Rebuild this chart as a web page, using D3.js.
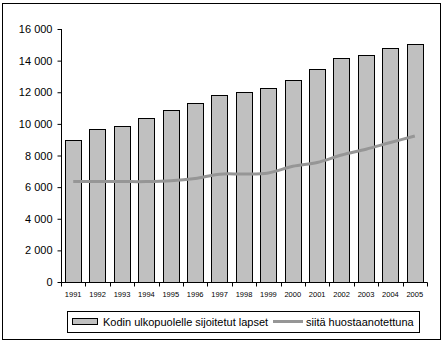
<!DOCTYPE html>
<html><head><meta charset="utf-8">
<script src="https://cdn.jsdelivr.net/npm/d3@7"></script>
<style>body{margin:0;background:#fff}svg{display:block}text{font-family:"Liberation Sans",Arial,sans-serif}</style>
</head><body><svg id="c" width="445" height="342"></svg>
<script>
const years = ["1991","1992","1993","1994","1995","1996","1997","1998","1999","2000","2001","2002","2003","2004","2005"];
const placed = [9000,9650,9850,10350,10900,11350,11800,12000,12300,12800,13500,14150,14350,14800,15050];
const custody = [6350,6350,6350,6350,6400,6550,6820,6830,6900,7320,7560,8030,8400,8820,9230];
const yTicks = [0,2000,4000,6000,8000,10000,12000,14000,16000];
const seriesNames = ["Kodin ulkopuolelle sijoitetut lapset","siitä huostaanotettuna"];

const svg = d3.select("#c");
const L=61, R=427, T=29, B=282;
const x = d3.scaleBand().domain(years).range([L,R]).paddingInner(0.33).paddingOuter(0.165);
const y = d3.scaleLinear().domain([0,16000]).range([B,T]);
const fmt = v => v===0 ? "0" : d3.format(",")(v).replace(/,/g," ");

// frame
svg.append("rect").attr("x",2.5).attr("y",3.5).attr("width",438).attr("height",336)
  .attr("fill","none").attr("stroke","#000").attr("stroke-width",1);

// bars
svg.append("g").selectAll("rect").data(years).join("rect")
  .attr("x",d=>Math.round(x(d))+0.5).attr("y",(d,i)=>Math.round(y(placed[i]))+0.5)
  .attr("width",Math.round(x.bandwidth())).attr("height",(d,i)=>B-Math.round(y(placed[i])))
  .attr("fill","#c0c0c0").attr("stroke","#000").attr("stroke-width",1);

// line
const line = d3.line().x((d,i)=>x(years[i])+x.bandwidth()/2).y(d=>y(d)).curve(d3.curveCatmullRom.alpha(0.5));
svg.append("path").datum(custody).attr("d",line).attr("fill","none").attr("stroke","#969696").attr("stroke-width",3);

// y axis
const ya = svg.append("g").attr("transform",`translate(${L+0.5},0)`)
  .call(d3.axisLeft(y).tickValues(yTicks).tickFormat(fmt).tickSize(4).tickPadding(5));
ya.selectAll("path,line").attr("stroke","#000");
ya.selectAll("text").attr("font-size","11px").attr("fill","#000").attr("font-family","Liberation Sans, Arial, sans-serif");
ya.select(".domain").attr("d",`M0,${T}V${B+0.5}`);

// x axis
const xg = svg.append("g").attr("transform",`translate(0,${B+0.5})`);
xg.append("line").attr("x1",L).attr("x2",R+0.5).attr("stroke","#000");
const step = x.step();
const bounds = d3.range(years.length+1).map(i=>L+i*(R-L)/years.length);
xg.selectAll(".tk").data(bounds).join("line").attr("class","tk")
  .attr("x1",d=>Math.round(d)+0.5).attr("x2",d=>Math.round(d)+0.5).attr("y1",0).attr("y2",4).attr("stroke","#000");
xg.selectAll(".yl").data(years).join("text").attr("class","yl")
  .attr("x",d=>x(d)+x.bandwidth()/2).attr("y",14).attr("text-anchor","middle")
  .attr("font-size","7.5px").attr("fill","#000").text(d=>d);

// legend
const lg = svg.append("g");
lg.append("rect").attr("x",67.5).attr("y",311.5).attr("width",352).attr("height",21).attr("fill","#fff").attr("stroke","#000");
lg.append("rect").attr("x",72.5).attr("y",318.5).attr("width",25).attr("height",6).attr("fill","#c0c0c0").attr("stroke","#000");
lg.append("text").attr("x",103).attr("y",326).attr("font-size","11px").text(seriesNames[0]);
lg.append("line").attr("x1",273).attr("x2",303).attr("y1",321.5).attr("y2",321.5).attr("stroke","#969696").attr("stroke-width",3);
lg.append("text").attr("x",306).attr("y",326).attr("font-size","11px").text(seriesNames[1]);
</script></body></html>
